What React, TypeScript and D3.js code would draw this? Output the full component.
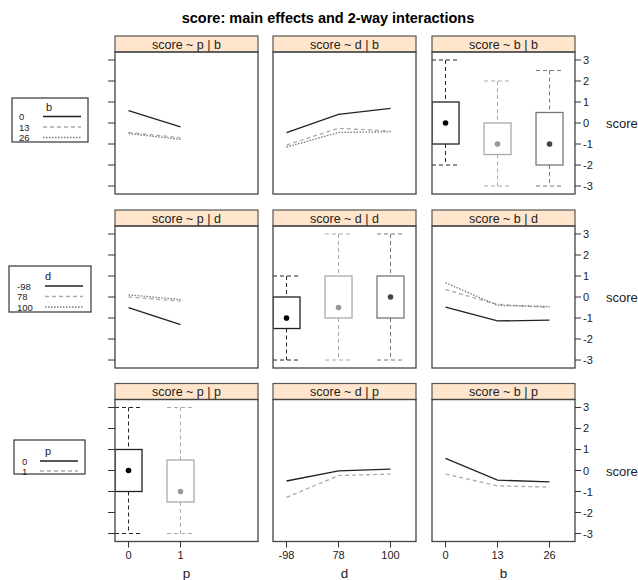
import React from "react";
import * as d3 from "d3";

// factor levels
const pLevels = ["0", "1"];
const dLevels = ["-98", "78", "100"];
const bLevels = ["0", "13", "26"];

// interaction means (rows = conditioning group, cols = x level)
const meansPbyB = [[0.59, -0.19], [-0.45, -0.7], [-0.5, -0.78]];
const meansDbyB = [[-0.46, 0.41, 0.7], [-1.05, -0.25, -0.38], [-1.15, -0.45, -0.42]];
const meansPbyD = [[-0.51, -1.32], [0.0, -0.2], [0.1, -0.12]];
const meansBbyD = [[-0.48, -1.14, -1.1], [0.35, -0.35, -0.5], [0.68, -0.4, -0.45]];
const meansDbyP = [[-0.5, -0.02, 0.07], [-1.28, -0.24, -0.17]];
const meansBbyP = [[0.58, -0.46, -0.54], [-0.17, -0.73, -0.79]];

// box stats: [lower whisker, q1, median, q3, upper whisker]
const boxB = [[-2, -1, 0, 1, 3], [-3, -1.5, -1, 0, 2], [-3, -2, -1, 0.5, 2.5]];
const boxD = [[-3, -1.5, -1, 0, 1], [-3, -1, -0.5, 1, 3], [-3, -1, 0, 1, 3]];
const boxP = [[-3, -1, 0, 1, 3], [-3, -1.5, -1, 0.5, 3]];

const yTicks = [-3, -2, -1, 0, 1, 2, 3];

const W = 638, H = 580;
const colX = [115, 273, 432];
const rowY = [52, 226, 399.5];
const pw = 143, ph = 142, stripH = 16;

const lineCol = ["#222", "#aaa", "#777"];
const dash = [null, "4,3", "1.5,1.5"];
const dotCol = ["#000", "#999", "#444"];

const font = "'Liberation Sans', Arial, Helvetica, sans-serif";

const x = d3.scaleLinear().domain([0.74, 3.49]).range([0, pw]);
const y = d3.scaleLinear().domain([-3.38, 3.38]).range([ph, 0]);

const line = d3.line<number>().x((d, i) => x(i + 1)).y((d) => y(d));

type Panel = { title: string; kind: "line" | "box"; data: number[][] };

const rowVars = ["b", "d", "p"];
const colVars = ["p", "d", "b"];
const colLevels = [pLevels, dLevels, bLevels];
const rowLevels = [bLevels, dLevels, pLevels];

const panels: Panel[][] = [
  [
    { title: "score ~ p | b", kind: "line", data: meansPbyB },
    { title: "score ~ d | b", kind: "line", data: meansDbyB },
    { title: "score ~ b | b", kind: "box", data: boxB },
  ],
  [
    { title: "score ~ p | d", kind: "line", data: meansPbyD },
    { title: "score ~ d | d", kind: "box", data: boxD },
    { title: "score ~ b | d", kind: "line", data: meansBbyD },
  ],
  [
    { title: "score ~ p | p", kind: "box", data: boxP },
    { title: "score ~ d | p", kind: "line", data: meansDbyP },
    { title: "score ~ b | p", kind: "line", data: meansBbyP },
  ],
];

const legendBoxes = [
  { x: 12, y: 98, w: 76, h: 44, titleX: 49, labelX: 19, lx0: 43, lx1: 81, rows: [116.5, 127, 137.5] },
  { x: 9, y: 266, w: 82, h: 46, titleX: 48, labelX: 17, lx0: 45, lx1: 83, rows: [286, 296.5, 307] },
  { x: 14, y: 440, w: 71, h: 34, titleX: 48, labelX: 22, lx0: 40, lx1: 78, rows: [461, 471] },
];

function BoxPlot({ stats, i }: { stats: number[]; i: number }) {
  const cx = x(i + 1);
  const hw = 13.5;
  const [lo, q1, med, q3, hi] = stats;
  const c = lineCol[i];
  return (
    <g>
      <line x1={cx} x2={cx} y1={y(hi)} y2={y(q3)} stroke={c} strokeDasharray="4,3" />
      <line x1={cx} x2={cx} y1={y(q1)} y2={y(lo)} stroke={c} strokeDasharray="4,3" />
      <line x1={cx - hw} x2={cx + hw} y1={y(hi)} y2={y(hi)} stroke={c} strokeDasharray="4,3" />
      <line x1={cx - hw} x2={cx + hw} y1={y(lo)} y2={y(lo)} stroke={c} strokeDasharray="4,3" />
      <rect x={cx - hw} y={y(q3)} width={hw * 2} height={y(q1) - y(q3)} fill="white" stroke={c} strokeWidth={1.3} />
      <circle cx={cx} cy={y(med)} r={2.8} fill={dotCol[i]} />
    </g>
  );
}

export default function App() {
  return (
    <svg width={W} height={H} style={{ position: "absolute", left: 0, top: 0, background: "white" }} fontFamily={font}>
      <text x={328} y={23} textAnchor="middle" fontWeight="bold" fontSize={14.5}>
        score: main effects and 2-way interactions
      </text>
      {panels.map((row, r) =>
        row.map((p, c) => (
          <g key={r + "-" + c} transform={`translate(${colX[c]},${rowY[r]})`}>
            <rect x={0} y={-stripH} width={pw} height={stripH} fill="#ffe5cc" stroke="#555" strokeWidth={1.2} />
            <text x={pw / 2} y={-stripH / 2 + 4.5} textAnchor="middle" fontSize={12.5} fill="#222">
              {p.title}
            </text>
            <clipPath id={`clip${r}${c}`}>
              <rect x={0} y={0} width={pw} height={ph} />
            </clipPath>
            <g clipPath={`url(#clip${r}${c})`}>
              {p.kind === "line"
                ? p.data.map((vals, g) => (
                    <path
                      key={g}
                      d={line(vals) || ""}
                      fill="none"
                      stroke={lineCol[g]}
                      strokeWidth={1.3}
                      strokeDasharray={dash[g] || undefined}
                    />
                  ))
                : p.data.map((s, g) => <BoxPlot key={g} stats={s} i={g} />)}
            </g>
            <rect x={0} y={0} width={pw} height={ph} fill="none" stroke="#444" strokeWidth={1.3} />
            {c === 0 &&
              yTicks.map((t) => <line key={t} x1={-7} x2={0} y1={y(t)} y2={y(t)} stroke="#333" />)}
            {c === 2 && (
              <g>
                {yTicks.map((t) => (
                  <g key={t}>
                    <line x1={pw} x2={pw + 6} y1={y(t)} y2={y(t)} stroke="#333" />
                    <text x={pw + 8} y={y(t) + 4} fontSize={11} fill="#222">
                      {t}
                    </text>
                  </g>
                ))}
                <text x={pw + 31} y={y(0) + 5} fontSize={13} fill="#222">
                  score
                </text>
              </g>
            )}
            {r === 2 && (
              <g>
                {colLevels[c].map((lab, i) => (
                  <g key={lab}>
                    <line x1={x(i + 1)} x2={x(i + 1)} y1={ph} y2={ph + 6} stroke="#333" />
                    <text x={x(i + 1)} y={ph + 17} textAnchor="middle" fontSize={11} fill="#222">
                      {lab}
                    </text>
                  </g>
                ))}
                <text x={pw / 2} y={ph + 36} textAnchor="middle" fontSize={13.5} fill="#222">
                  {colVars[c]}
                </text>
              </g>
            )}
          </g>
        ))
      )}
      {legendBoxes.map((lb, r) => (
        <g key={r}>
          <rect x={lb.x} y={lb.y} width={lb.w} height={lb.h} fill="white" stroke="#444" strokeWidth={1.3} />
          <text x={lb.titleX} y={lb.rows[0] - 6} textAnchor="middle" fontSize={11} fill="#222">
            {rowVars[r]}
          </text>
          {rowLevels[r].map((lab, g) => (
            <g key={lab}>
              <text x={lb.labelX} y={lb.rows[g] + 3.5} fontSize={9.5} fill="#222">
                {lab}
              </text>
              <line
                x1={lb.lx0}
                x2={lb.lx1}
                y1={lb.rows[g]}
                y2={lb.rows[g]}
                stroke={lineCol[g]}
                strokeWidth={1.3}
                strokeDasharray={dash[g] || undefined}
              />
            </g>
          ))}
        </g>
      ))}
    </svg>
  );
}
